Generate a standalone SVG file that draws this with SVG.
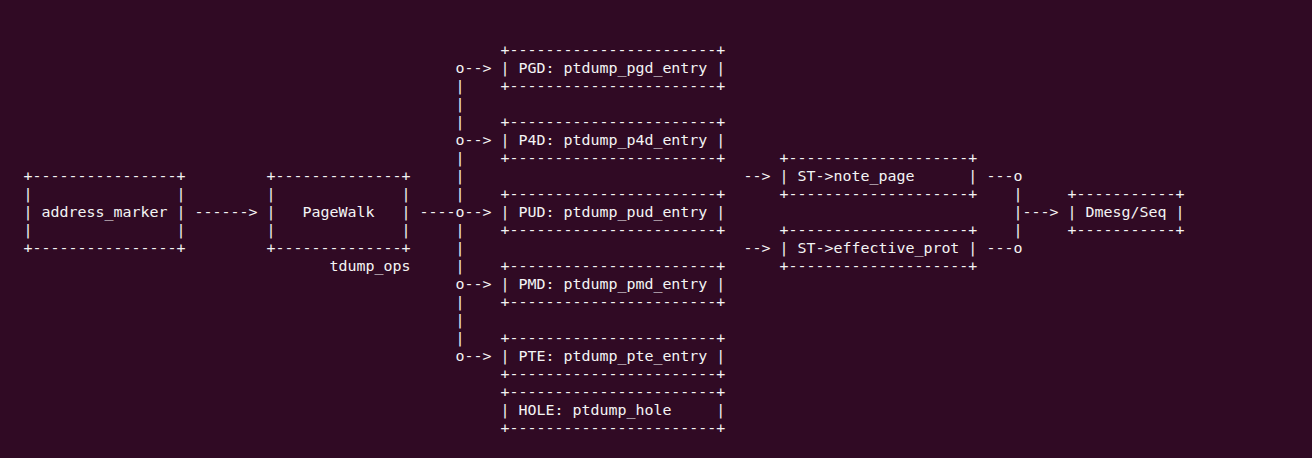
<svg xmlns="http://www.w3.org/2000/svg" width="1312" height="458" viewBox="0 0 1312 458">
<style>
text{font-family:"DejaVu Sans Mono","Liberation Mono",monospace;font-size:14.95px;fill:#f4f4f4;white-space:pre}
</style>
<rect width="1312" height="458" fill="#300a24"/>
<g transform="translate(0,-1)">
<g id="address_marker" xml:space="preserve">
<text x="23.5" y="182">+----------------+</text>
<text x="23.5" y="200">|                |</text>
<text x="23.5" y="218">| address_marker |</text>
<text x="23.5" y="236">|                |</text>
<text x="23.5" y="254">+----------------+</text>
</g>
<g id="pagewalk" xml:space="preserve">
<text x="266.5" y="182">+--------------+</text>
<text x="266.5" y="200">|              |</text>
<text x="266.5" y="218">|   PageWalk   |</text>
<text x="266.5" y="236">|              |</text>
<text x="266.5" y="254">+--------------+</text>
<text x="329.5" y="272">tdump_ops</text>
</g>
<g id="pgd" xml:space="preserve">
<text x="500.5" y="56">+-----------------------+</text>
<text x="500.5" y="74">| PGD: ptdump_pgd_entry |</text>
<text x="500.5" y="92">+-----------------------+</text>
</g>
<g id="p4d" xml:space="preserve">
<text x="500.5" y="128">+-----------------------+</text>
<text x="500.5" y="146">| P4D: ptdump_p4d_entry |</text>
<text x="500.5" y="164">+-----------------------+</text>
</g>
<g id="pud" xml:space="preserve">
<text x="500.5" y="200">+-----------------------+</text>
<text x="500.5" y="218">| PUD: ptdump_pud_entry |</text>
<text x="500.5" y="236">+-----------------------+</text>
</g>
<g id="pmd" xml:space="preserve">
<text x="500.5" y="272">+-----------------------+</text>
<text x="500.5" y="290">| PMD: ptdump_pmd_entry |</text>
<text x="500.5" y="308">+-----------------------+</text>
</g>
<g id="pte" xml:space="preserve">
<text x="500.5" y="344">+-----------------------+</text>
<text x="500.5" y="362">| PTE: ptdump_pte_entry |</text>
<text x="500.5" y="380">+-----------------------+</text>
</g>
<g id="hole" xml:space="preserve">
<text x="500.5" y="398">+-----------------------+</text>
<text x="500.5" y="416">| HOLE: ptdump_hole     |</text>
<text x="500.5" y="434">+-----------------------+</text>
</g>
<g id="note_page" xml:space="preserve">
<text x="779.5" y="164">+--------------------+</text>
<text x="779.5" y="182">| ST-&gt;note_page      |</text>
<text x="779.5" y="200">+--------------------+</text>
</g>
<g id="effective_prot" xml:space="preserve">
<text x="779.5" y="236">+--------------------+</text>
<text x="779.5" y="254">| ST-&gt;effective_prot |</text>
<text x="779.5" y="272">+--------------------+</text>
</g>
<g id="dmesg_seq" xml:space="preserve">
<text x="1067.5" y="200">+-----------+</text>
<text x="1067.5" y="218">| Dmesg/Seq |</text>
<text x="1067.5" y="236">+-----------+</text>
</g>
<g id="connectors" xml:space="preserve">
<text x="194.5" y="218">------&gt;</text>
<text x="419.5" y="218">----o--&gt;</text>
<text x="455.5" y="74">o--&gt;</text>
<text x="455.5" y="146">o--&gt;</text>
<text x="455.5" y="290">o--&gt;</text>
<text x="455.5" y="362">o--&gt;</text>
<text x="455.5" y="92">|</text>
<text x="455.5" y="110">|</text>
<text x="455.5" y="128">|</text>
<text x="455.5" y="164">|</text>
<text x="455.5" y="182">|</text>
<text x="455.5" y="200">|</text>
<text x="455.5" y="236">|</text>
<text x="455.5" y="254">|</text>
<text x="455.5" y="272">|</text>
<text x="455.5" y="308">|</text>
<text x="455.5" y="326">|</text>
<text x="455.5" y="344">|</text>
<text x="743.5" y="182">--&gt;</text>
<text x="743.5" y="254">--&gt;</text>
<text x="986.5" y="182">---o</text>
<text x="986.5" y="254">---o</text>
<text x="1013.5" y="200">|</text>
<text x="1013.5" y="218">|---&gt;</text>
<text x="1013.5" y="236">|</text>
</g>
</g>
</svg>
